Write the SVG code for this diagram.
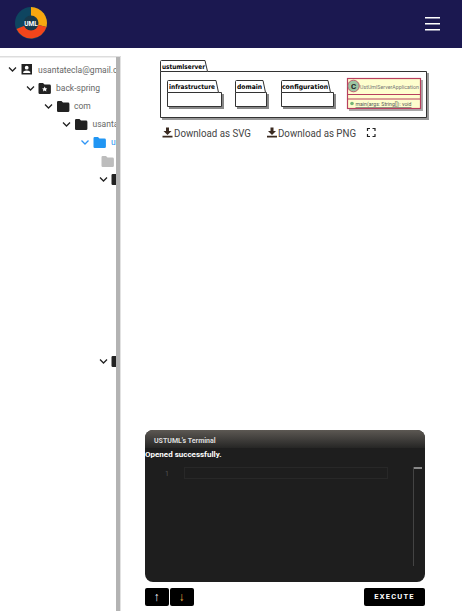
<svg xmlns="http://www.w3.org/2000/svg" width="462" height="611" viewBox="0 0 462 611">
<style>
text{font-family:Roboto,"Liberation Sans",sans-serif}
.tree{font-size:8.5px;fill:#666}
.chev{fill:none;stroke:#222;stroke-width:1.3}
.dl{font-size:10.5px;fill:#444}
.pk{fill:#fff;stroke:#333;stroke-width:1}
.pt{font-size:6.5px;font-weight:bold;fill:#000;font-family:"DejaVu Sans",sans-serif}
.btn{fill:#000}
</style>
<defs>
<clipPath id="c"><rect x="0" y="56" width="116" height="555"/></clipPath>
<linearGradient id="h" x1="0" y1="0" x2="0" y2="1"><stop offset="0" stop-color="#5c5853"/><stop offset="1" stop-color="#262625"/></linearGradient>
<path id="fold" d="M0 1.2Q0 0 1.2 0H4.5L6 1.6H11Q12.4 1.6 12.4 3V9.8Q12.4 11 11 11H1.2Q0 11 0 9.8Z"/>
<path id="dlicon" d="M3.5 0H6.500V3.500H9L5 7.500L1 3.500H3.500ZM0 8.200H10V10H0Z" fill="#3a2a20"/>
</defs>
<rect width="462" height="611" fill="#fff"/>
<g id="header">
<rect width="462" height="48" fill="#1b1850"/>
<g id="logo">
<circle cx="31" cy="23" r="16" fill="#0e4560"/>
<path d="M31 7A16 16 0 0 1 46.500 27L31 23Z" fill="#f7a70f"/>
<path d="M46.500 27A16 16 0 0 1 16.500 29L31 23Z" fill="#f4451b"/>
<circle cx="31" cy="23" r="7.500" fill="#17384a"/>
<text x="31" y="25.500" font-size="6.500" font-weight="bold" fill="#fff" text-anchor="middle">UML</text>
</g>
<rect x="425" y="17" width="15" height="1.500" fill="#fff"/>
<rect x="425" y="23" width="15" height="1.500" fill="#fff"/>
<rect x="425" y="29" width="15" height="1.500" fill="#fff"/>
</g>
<g id="sidebar">
<rect x="0" y="56" width="121" height="555" fill="#fff"/>
<rect x="0" y="56" width="121" height="1.500" fill="#ddd"/>
<rect x="116" y="57" width="4" height="554" fill="#b3b3b3"/>
<rect x="120" y="57" width="1" height="554" fill="#e2e2e2"/>
<g clip-path="url(#c)">
<g id="n1">
<path class="chev" d="M9 67.500L12.500 71L16 67.500"/>
<path fill="#222" fill-rule="evenodd" d="M21.500 64H32V74.500H21.500ZM26.700 65.800A1.900 1.900 0 1 0 26.710 69.600A1.900 1.900 0 1 0 26.700 65.800ZM23.200 72.900H30.300V71.800Q28.500 70.400 26.700 70.400T23.200 71.800Z"/>
<text class="tree" x="38" y="73">usantatecla@gmail.com</text>
</g>
<g id="n2">
<path class="chev" d="M27 86.500L30.500 90L34 86.500"/>
<use href="#fold" x="38.500" y="83" fill="#222"/>
<path d="M44.700 86.500L45.500 88.300L47.300 88.500L46 89.700L46.400 91.500L44.700 90.500L43 91.500L43.400 89.700L42.100 88.500L43.900 88.300Z" fill="#fff"/>
<text class="tree" x="56" y="91">back-spring</text>
</g>
<g id="n3">
<path class="chev" d="M45 104.500L48.500 108L52 104.500"/>
<use href="#fold" x="57" y="101" fill="#222"/>
<text class="tree" x="74" y="109">com</text>
</g>
<g id="n4">
<path class="chev" d="M63 122.500L66.500 126L70 122.500"/>
<use href="#fold" x="75" y="119" fill="#222"/>
<text class="tree" x="92.500" y="127">usantatecla</text>
</g>
<g id="n5">
<path d="M81.500 140.500L85 144L88.500 140.500" fill="none" stroke="#2f95f5" stroke-width="1.300"/>
<use href="#fold" x="93.500" y="137" fill="#2196f3"/>
<text class="tree" x="111" y="145" style="fill:#2196f3">ustuml</text>
</g>
<g id="n6"><use href="#fold" x="101.500" y="156" fill="#bdbdbd"/></g>
<g id="n7">
<path class="chev" d="M100 177.500L103.500 181L107 177.500"/>
<use href="#fold" x="111.500" y="174" fill="#222"/>
</g>
<g id="n8">
<path class="chev" d="M100 359.500L103.500 363L107 359.500"/>
<use href="#fold" x="111.500" y="356" fill="#222"/>
</g>
</g>
</g>
<g id="diagram">
<g id="pkg-ustumlserver">
<path d="M162 73H429V120H162Z" fill="#999"/>
<path class="pk" d="M160.500 71.500V61.500Q160.500 60.500 161.500 60.500H205L207.500 71.500H426.500V117.500H160.500Z"/>
<path d="M160.500 71.500H207.500" stroke="#333" fill="none"/>
<text class="pt" x="162" y="68.500" textLength="43" lengthAdjust="spacingAndGlyphs">ustumlserver</text>
</g>
<g id="pkg-infrastructure">
<path d="M169 94H224V109H169Z" fill="#888"/>
<path class="pk" d="M167.500 92.500V81.500Q167.500 80.500 168.500 80.500H216L218.500 92.500H221.500V106.500H167.500Z"/>
<path d="M167.500 92.500H218.500" stroke="#333"/>
<text class="pt" x="169" y="88.500" textLength="46" lengthAdjust="spacingAndGlyphs">infrastructure</text>
</g>
<g id="pkg-domain">
<path d="M237 94H269V109H237Z" fill="#888"/>
<path class="pk" d="M235.500 92.500V81.500Q235.500 80.500 236.500 80.500H263L265.500 92.500H266.500V106.500H235.500Z"/>
<path d="M235.500 92.500H265.500" stroke="#333"/>
<text class="pt" x="237" y="88.500" textLength="25" lengthAdjust="spacingAndGlyphs">domain</text>
</g>
<g id="pkg-configuration">
<path d="M283 94H336V109H283Z" fill="#888"/>
<path class="pk" d="M281.500 92.500V81.500Q281.500 80.500 282.500 80.500H328L330.500 92.500H333.500V106.500H281.500Z"/>
<path d="M281.500 92.500H330.500" stroke="#333"/>
<text class="pt" x="282" y="88.500" textLength="46" lengthAdjust="spacingAndGlyphs">configuration</text>
</g>
<g id="class-app">
<rect x="349" y="80" width="74" height="31" fill="#aaa"/>
<rect x="347.500" y="78.500" width="73" height="30" fill="#fefece" stroke="#b8405f" stroke-width="1.200"/>
<path d="M347.500 94.500H420.500M347.500 99H420.500" stroke="#b8405f" stroke-width="1"/>
<circle cx="353.500" cy="86" r="5.800" fill="#9cc4a2" stroke="#b8405f" stroke-width="0.800"/>
<text x="353.500" y="89" font-size="8" font-weight="bold" fill="#222" text-anchor="middle">C</text>
<text x="360" y="88.500" font-size="6" fill="#777" textLength="59" lengthAdjust="spacingAndGlyphs">UstUmlServerApplication</text>
<circle cx="352" cy="103.500" r="1.800" fill="#74b476"/>
<text x="355.500" y="106" font-size="6" fill="#555" text-decoration="underline" textLength="56" lengthAdjust="spacingAndGlyphs">main(args: String[]): void</text>
</g>
</g>
<g id="downloads">
<use href="#dlicon" x="162.500" y="127.500"/>
<text class="dl" x="174" y="136.500" textLength="77" lengthAdjust="spacingAndGlyphs">Download as SVG</text>
<use href="#dlicon" x="267" y="127.500"/>
<text class="dl" x="278" y="136.500" textLength="78" lengthAdjust="spacingAndGlyphs">Download as PNG</text>
<path d="M367.500 131V128.500H370M372.500 128.500H375V131M375 134V136.500H372.500M370 136.500H367.500V134" fill="none" stroke="#222" stroke-width="1.200"/>
</g>
<g id="terminal">
<rect x="145" y="430" width="280" height="152" rx="8" fill="#1e1e1e"/>
<path d="M145 448V438A8 8 0 0 1 153 430H417A8 8 0 0 1 425 438V448Z" fill="url(#h)"/>
<text x="154" y="443" font-size="7" font-weight="bold" fill="#ddd">USTUML's Terminal</text>
<text x="145" y="457" font-size="8" font-weight="bold" fill="#fff">Opened successfully.</text>
<text x="165" y="476" font-size="7" fill="#555" font-family="Liberation Mono,monospace">1</text>
<rect x="184.500" y="467.500" width="203" height="11" fill="none" stroke="#282828"/>
<rect x="413" y="467" width="1" height="99" fill="#444"/>
<rect x="414" y="467" width="8" height="2" fill="#888"/>
</g>
<g id="buttons">
<g id="btn-up"><rect class="btn" x="145" y="588" width="24" height="18" rx="2"/><text x="156.500" y="601" font-size="12" font-weight="bold" fill="#fff" text-anchor="middle">↑</text></g>
<g id="btn-down"><rect class="btn" x="170" y="588" width="24" height="18" rx="2"/><text x="181.500" y="601" font-size="12" font-weight="bold" fill="#f0b040" text-anchor="middle">↓</text></g>
<g id="btn-exec"><rect class="btn" x="364" y="588" width="61" height="18" rx="2"/><text x="394.500" y="599" font-size="7.500" font-weight="bold" fill="#fff" text-anchor="middle" letter-spacing="1.200">EXECUTE</text></g>
</g>
</svg>
